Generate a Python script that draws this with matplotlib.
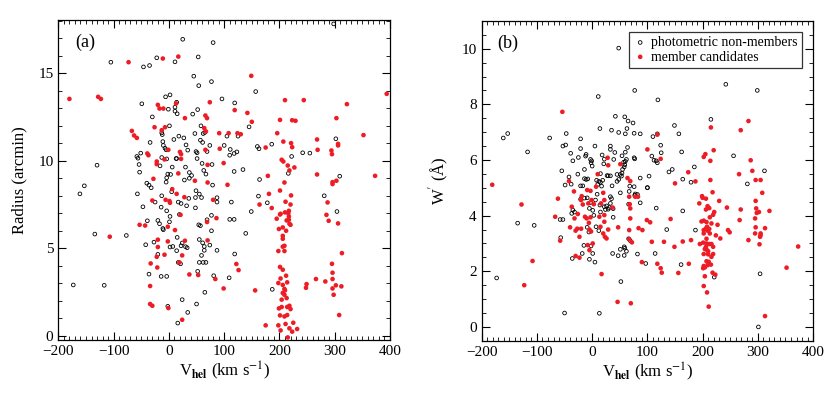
import matplotlib
matplotlib.use("Agg")
import matplotlib.pyplot as plt
from matplotlib.ticker import MultipleLocator

plt.rcParams['font.family'] = ['Liberation Serif', 'DejaVu Serif']
plt.rcParams['mathtext.fontset'] = 'stix'

# ---------------- panel (a): radius vs heliocentric velocity ----------------
# (V_hel [km/s], radius [arcmin])
a_nonmem = [
    (298, 17.83), (25, 16.95), (80, 16.76), (-105, 15.64), (-22, 15.89), (11, 15.66),
    (53, 15.94), (-46, 15.37), (-35, 15.45), (45, 14.84), (54, 14.30), (77, 14.53),
    (157, 13.96), (96, 13.54), (-6, 13.66), (2, 13.77), (14, 13.35), (119, 13.31),
    (-49, 13.26), (-30, 12.51), (-1, 12.95), (11, 13.07), (11, 12.84), (15, 12.69),
    (43, 12.67), (52, 12.93), (58, 12.0), (1, 12.0), (-13, 11.60), (-12, 11.5),
    (47, 11.56), (62, 11.56), (65, 11.62), (145, 11.94), (105, 11.41), (125, 11.41),
    (302, 11.26), (18, 11.41), (27, 11.31), (9, 11.22), (57, 11.18), (61, 11.05),
    (74, 10.88), (31, 10.91), (-11, 11.1), (-10, 10.88), (-34, 11.05), (100, 10.88),
    (111, 10.65), (123, 10.51), (118, 10.42), (110, 10.32), (160, 10.82), (163, 10.69),
    (186, 10.95), (242, 10.46), (255, 10.44), (222, 10.25), (-7, 10.72), (-5, 10.63),
    (34, 10.61), (49, 10.53), (51, 10.46), (69, 10.53), (-58, 10.25), (-56, 10.15),
    (-51, 10.44), (-54, 9.79), (-53, 9.35), (-13, 10.19), (-4, 10.11), (13, 10.13),
    (14, 10.13), (-16, 9.71), (6, 9.64), (30, 9.64), (51, 10.13), (60, 9.85),
    (78, 9.79), (63, 9.45), (67, 9.24), (118, 9.39), (134, 9.5), (216, 9.28),
    (309, 9.12), (-130, 9.75), (37, 9.33), (41, 9.16), (37, 9.0), (3, 9.22),
    (-2, 9.24), (-4, 9.03), (-5, 8.78), (28, 8.90), (164, 8.93), (-40, 8.72),
    (-36, 8.61), (-32, 8.46), (79, 8.61), (-153, 8.57), (-161, 8.11), (-57, 8.11),
    (-13, 8.0), (5, 8.23), (49, 8.29), (55, 8.10), (59, 7.9), (36, 7.85),
    (48, 7.90), (87, 7.89), (87, 7.64), (113, 7.64), (162, 7.98), (178, 7.60),
    (281, 8.0), (-25, 7.64), (17, 7.64), (22, 7.56), (-47, 7.37), (-14, 7.35),
    (32, 7.43), (-4, 7.14), (19, 6.93), (48, 7.31), (77, 6.88), (149, 7.10),
    (304, 7.10), (2, 6.82), (-39, 6.57), (-20, 6.59), (-17, 6.40), (1, 6.51),
    (54, 6.34), (57, 6.29), (69, 6.63), (110, 6.65), (118, 6.65), (-11, 6.13),
    (-10, 6.06), (77, 6.0), (-134, 5.81), (-77, 5.73), (139, 5.85), (15, 5.62),
    (55, 5.5), (-42, 5.2), (-27, 5.35), (7, 5.10), (2, 5.07), (24, 5.30),
    (22, 5.14), (30, 5.09), (33, 5.03), (61, 5.31), (64, 5.10), (74, 5.18),
    (87, 4.88), (59, 4.59), (64, 4.88), (14, 4.86), (-20, 4.65), (119, 4.67),
    (67, 4.19), (62, 4.19), (55, 4.19), (17, 4.19), (21, 4.11), (-36, 3.52),
    (-14, 3.39), (-4, 3.39), (81, 3.43), (109, 3.31), (52, 3.68), (-173, 2.90),
    (-117, 2.88), (65, 2.48), (24, 2.06), (50, 1.81), (-2, 1.68), (34, 1.33),
    (16, 0.72), (187, 2.65),
]

a_members = [
    (-180, 13.54), (-128, 13.66), (-123, 13.54), (-73, 15.64), (-11, 15.85), (17, 15.96),
    (149, 14.86), (394, 13.83), (244, 13.47), (210, 13.47), (322, 13.24), (74, 13.35),
    (13, 13.28), (-20, 13.2), (-17, 12.99), (-10, 12.99), (119, 12.9), (142, 12.74),
    (29, 12.44), (66, 12.59), (69, 12.44), (150, 12.23), (201, 12.34), (223, 12.32),
    (229, 12.29), (303, 12.44), (-26, 11.92), (-7, 11.92), (-13, 11.75), (-67, 11.71),
    (-63, 11.45), (-58, 11.31), (64, 11.87), (67, 11.68), (91, 11.58), (108, 11.58),
    (124, 11.58), (130, 11.52), (196, 11.58), (352, 11.47), (268, 11.22), (207, 11.10),
    (221, 11.01), (223, 10.78), (306, 10.97), (306, 10.88), (175, 10.76), (269, 10.63),
    (294, 10.59), (295, 10.38), (92, 10.69), (66, 10.63), (-39, 10.42), (-37, 10.32),
    (20, 10.51), (22, 10.38), (-1, 10.63), (22, 10.11), (-8, 10.08), (-22, 9.96),
    (-22, 9.81), (70, 9.77), (99, 9.87), (204, 10.06), (207, 9.96), (215, 9.73),
    (218, 9.45), (227, 9.62), (179, 9.14), (268, 9.22), (373, 9.14), (17, 9.28),
    (-28, 8.97), (47, 8.86), (70, 8.76), (106, 8.63), (209, 8.76), (303, 8.86),
    (296, 8.78), (296, 8.67), (6, 8.38), (14, 8.11), (181, 8.11), (201, 8.30),
    (221, 8.02), (28, 7.92), (-30, 7.73), (-6, 7.77), (1, 7.70), (2, 7.60),
    (80, 7.77), (186, 7.30), (164, 7.50), (211, 7.66), (220, 7.50), (217, 7.14),
    (202, 6.97), (285, 6.91), (287, 7.62), (217, 6.82), (217, 6.63), (195, 6.69),
    (213, 6.59), (218, 6.40), (220, 6.34), (210, 7.05), (216, 7.0), (201, 6.93),
    (289, 6.57), (306, 6.42), (21, 6.91), (86, 6.72), (69, 6.50), (-53, 6.34),
    (-43, 6.30), (-2, 6.23), (11, 6.04), (199, 6.10), (206, 6.19), (212, 6.0),
    (206, 5.71), (206, 5.54), (-107, 5.66), (-20, 5.49), (-2, 5.39), (29, 5.43),
    (70, 5.45), (209, 5.14), (206, 5.09), (198, 4.84), (209, 4.84), (313, 4.72),
    (-20, 5.07), (-8, 4.63), (-22, 4.51), (24, 4.59), (-33, 4.13), (19, 4.19),
    (-21, 3.90), (122, 4.10), (126, 3.75), (37, 3.50), (53, 3.47), (84, 3.24),
    (-34, 2.84), (99, 2.70), (156, 2.59), (295, 4.11), (296, 3.60), (296, 3.24),
    (266, 3.24), (283, 3.10), (249, 2.95), (248, 2.74), (302, 2.88), (312, 2.82),
    (296, 2.70), (298, 2.34), (308, 1.18), (-34, 1.81), (-30, 1.71), (-1, 1.58),
    (24, 0.91), (175, 0.59),
    (201, 3.93), (206, 3.77), (202, 3.27), (212, 3.43), (214, 3.05), (198, 3.01),
    (206, 2.90), (209, 2.67), (210, 2.59), (206, 2.44), (209, 2.34), (213, 2.15),
    (204, 2.06), (214, 1.64), (199, 1.56), (204, 1.64), (218, 1.71), (220, 1.52),
    (201, 1.16), (209, 1.10), (214, 1.18), (198, 0.59), (211, 0.67), (225, 0.74),
    (202, 0.30), (218, 0.42), (223, 0.23), (232, 0.38), (215, -0.1),
]

# ---------------- panel (b): W' vs heliocentric velocity ----------------
# (V_hel [km/s], W' [A])
b_nonmem = [
    (48, 10.02), (11, 8.28), (77, 8.50), (119, 8.16), (242, 8.72), (299, 8.50),
    (42, 7.57), (59, 7.55), (65, 7.40), (74, 7.33), (14, 7.13), (35, 7.07),
    (48, 6.99), (63, 7.13), (60, 6.94), (76, 6.96), (87, 6.94), (110, 6.84),
    (118, 6.94), (149, 7.24), (157, 6.94), (215, 7.46), (-161, 6.79), (-153, 6.95),
    (-77, 6.79), (-47, 6.95), (-117, 6.29), (-53, 6.50), (-48, 6.54), (-21, 6.76),
    (-21, 6.41), (5, 6.50), (-39, 6.24), (-25, 6.09), (-12, 6.14), (-11, 6.20),
    (-3, 6.02), (-1, 5.97), (-2, 5.90), (0, 5.78), (-14, 5.66), (-26, 5.49),
    (-35, 5.97), (-55, 5.61), (-49, 5.10), (-42, 5.39), (-38, 5.13), (-21, 5.07),
    (-14, 5.33), (-11, 5.30), (-8, 5.32), (8, 5.27), (10, 5.12), (12, 5.23),
    (15, 5.51), (15, 5.20), (17, 5.06), (19, 5.27), (18, 6.18), (22, 6.03),
    (21, 5.86), (27, 5.44), (29, 5.43), (33, 5.43), (33, 6.50), (33, 6.38),
    (41, 6.27), (39, 6.02), (45, 5.48), (48, 5.30), (54, 5.53), (53, 5.42),
    (45, 5.23), (36, 5.07), (51, 4.82), (51, 5.48), (55, 5.66), (57, 5.92),
    (60, 5.95), (62, 6.02), (59, 5.83), (58, 5.75), (54, 6.15), (76, 6.08),
    (77, 6.04), (64, 6.45), (60, 6.28), (87, 5.35), (76, 5.04), (68, 5.06),
    (67, 4.87), (78, 4.78), (77, 4.73), (82, 4.76), (87, 4.46), (66, 4.41),
    (100, 5.0), (103, 5.42), (108, 6.14), (112, 5.99), (116, 5.97), (118, 5.90),
    (124, 6.53), (125, 6.26), (139, 5.57), (145, 5.66), (162, 6.29), (185, 5.75),
    (256, 6.15), (312, 5.61), (164, 5.31),
    (33, 4.68), (35, 4.61), (33, 4.44), (26, 4.35), (22, 4.32), (24, 4.22),
    (29, 4.23), (31, 4.29), (38, 4.25), (14, 4.38), (15, 4.13), (9, 4.77),
    (6, 4.56), (-3, 4.47), (1, 4.19), (3, 4.01), (-5, 4.26), (-9, 4.64),
    (-17, 5.07), (-14, 4.63), (-21, 4.59), (-35, 4.20), (-32, 4.13), (-37, 4.08),
    (-58, 3.86), (-53, 3.86), (-135, 3.73), (-105, 3.65), (-57, 3.21), (-9, 3.58),
    (-6, 3.41), (7, 3.60), (12, 3.46), (-15, 2.93), (-2, 2.91), (1, 2.64),
    (-5, 2.43), (5, 2.33), (-36, 2.46), (-18, 2.64), (37, 2.64), (47, 2.56),
    (51, 2.79), (58, 2.57), (59, 2.83), (62, 2.72), (58, 2.88), (66, 3.17),
    (69, 3.10), (38, 3.94), (82, 2.62), (-173, 1.76), (52, 1.63), (-50, 0.50),
    (13, 0.49),
    (100, 5.01), (179, 5.20), (281, 5.14), (116, 4.27), (164, 4.17), (135, 3.50),
    (187, 3.48), (114, 2.64), (97, 2.28), (161, 2.24), (304, 1.91), (221, 1.79),
    (301, 0.0),
]

b_members = [
    (-181, 5.11), (-54, 7.73), (-62, 4.61), (-58, 3.10), (-67, 3.96), (-128, 4.40),
    (-108, 2.37), (-123, 1.50), (-42, 5.24), (-37, 4.32), (-33, 4.87), (-32, 3.90),
    (-40, 3.58), (-30, 3.46), (-27, 3.53), (-23, 3.24), (-20, 3.53), (-26, 4.06),
    (-20, 4.56), (-19, 4.70), (-30, 2.55), (-23, 2.49), (-17, 4.40), (-13, 3.96),
    (-9, 4.92), (-10, 3.90), (-7, 4.44), (-6, 3.74), (-5, 3.50), (-2, 3.43),
    (-3, 3.94), (-3, 4.89), (-1, 4.56), (-8, 2.94), (-5, 2.76), (1, 3.0),
    (3, 4.41), (7, 5.04), (10, 5.49), (13, 3.96), (15, 3.60), (16, 4.44),
    (17, 1.90), (20, 4.82), (22, 4.56), (22, 4.02), (22, 3.78), (20, 3.36),
    (23, 3.24), (26, 3.18), (28, 6.08), (29, 5.81), (29, 3.50), (37, 4.29),
    (47, 3.58), (46, 0.90), (51, 5.85), (70, 0.85), (64, 5.35), (69, 5.24),
    (67, 4.68), (68, 4.41), (69, 4.26), (69, 3.90), (67, 3.48), (67, 3.15),
    (72, 3.04), (78, 4.68), (83, 4.68), (84, 3.55), (91, 3.48), (90, 2.33),
    (100, 6.38), (118, 6.91), (124, 6.04), (174, 5.56), (202, 6.11), (205, 6.21),
    (215, 7.17), (214, 5.97), (220, 6.35), (266, 5.49), (269, 7.07), (283, 7.40),
    (287, 5.99), (290, 5.61),
    (150, 5.16), (187, 5.23), (214, 5.28), (296, 5.28), (305, 5.28), (308, 4.82),
    (199, 4.70), (200, 4.64), (206, 4.61), (218, 4.84), (194, 4.44), (230, 4.53),
    (296, 4.53), (209, 4.34), (212, 4.27), (206, 4.22), (244, 4.29), (269, 4.22),
    (297, 4.26), (221, 4.13), (219, 4.03), (298, 4.10), (302, 4.13), (321, 4.17),
    (213, 3.94), (295, 3.90), (267, 3.84), (99, 3.84), (105, 3.76), (142, 3.88),
    (198, 3.79), (202, 3.82), (207, 3.77), (216, 3.72), (227, 3.67), (208, 3.60),
    (206, 3.54), (212, 3.52), (202, 3.48), (209, 3.46), (296, 3.58), (313, 3.55),
    (246, 3.48), (249, 3.40), (224, 3.29), (213, 3.36), (202, 3.36), (232, 3.18),
    (295, 3.36), (305, 3.36), (305, 3.30), (304, 3.24), (303, 2.97), (283, 3.12),
    (108, 3.06), (130, 3.06), (164, 3.07), (179, 3.12), (207, 3.17), (195, 2.98),
    (201, 3.03), (207, 3.0), (212, 2.98), (216, 2.98), (219, 2.88), (206, 2.88),
    (204, 2.80), (208, 2.76), (210, 2.72), (149, 2.88), (373, 2.89), (219, 2.62),
    (202, 2.62), (210, 2.61), (216, 2.52), (207, 2.36), (211, 2.34), (202, 2.19),
    (204, 2.14), (209, 2.22), (215, 2.24), (201, 2.11), (118, 2.27), (124, 2.11),
    (126, 1.95), (156, 1.94), (175, 2.27), (352, 2.13), (218, 1.95), (223, 1.88),
    (204, 1.82), (202, 1.47), (208, 1.24), (211, 0.73), (313, 0.39),
]

RED = '#ee1c24'

fig = plt.figure(figsize=(8.30, 4.01), dpi=100)
ax1 = fig.add_axes([0.0703, 0.152, 0.3996, 0.798])
ax2 = fig.add_axes([0.5804, 0.150, 0.3992, 0.798])


def draw(ax, nonmem, members):
    ax.scatter([p[0] for p in nonmem], [p[1] for p in nonmem], s=7,
               facecolors='none', edgecolors='black', linewidths=0.6,
               label='photometric non-members', zorder=3)
    ax.scatter([p[0] for p in members], [p[1] for p in members], s=11,
               color=RED, edgecolors='none', label='member candidates', zorder=4)


def style(ax, ymaj, ymin):
    ax.set_xlim(-200, 400)
    ax.xaxis.set_major_locator(MultipleLocator(100))
    ax.xaxis.set_minor_locator(MultipleLocator(10))
    ax.yaxis.set_major_locator(MultipleLocator(ymaj))
    ax.yaxis.set_minor_locator(MultipleLocator(ymin))
    ax.tick_params(which='both', direction='in', top=True, right=True, labelsize=11)
    ax.tick_params(which='major', length=6, width=0.8)
    ax.tick_params(which='minor', length=3, width=0.6)
    for sp in ax.spines.values():
        sp.set_linewidth(0.9)
    ax.set_xlabel(r'V$_{\mathbf{hel}}$ (km s$^{-1}$)', fontsize=12, labelpad=1)


draw(ax1, a_nonmem, a_members)
style(ax1, 5, 1)
ax1.set_ylim(-0.25, 18.05)
ax1.set_ylabel('Radius (arcmin)', fontsize=12, labelpad=8)
ax1.text(0.08, 0.93, '(a)', transform=ax1.transAxes, fontsize=13,
         ha='center', va='center')

draw(ax2, b_nonmem, b_members)
style(ax2, 2, 0.5)
ax2.set_ylim(-0.5, 11)
ax2.set_ylabel("W$'$ (Å)", fontsize=12, labelpad=8)
ax2.text(0.08, 0.93, '(b)', transform=ax2.transAxes, fontsize=13,
         ha='center', va='center')
leg = ax2.legend(loc='upper right', fontsize=10, frameon=True, fancybox=False,
                 handletextpad=0.3, handlelength=1.0, borderpad=0.3,
                 labelspacing=0.1, borderaxespad=0.8, markerscale=1.0)
leg.get_frame().set_edgecolor('black')
leg.get_frame().set_linewidth(0.9)

fig.savefig('out.png', dpi=100)
